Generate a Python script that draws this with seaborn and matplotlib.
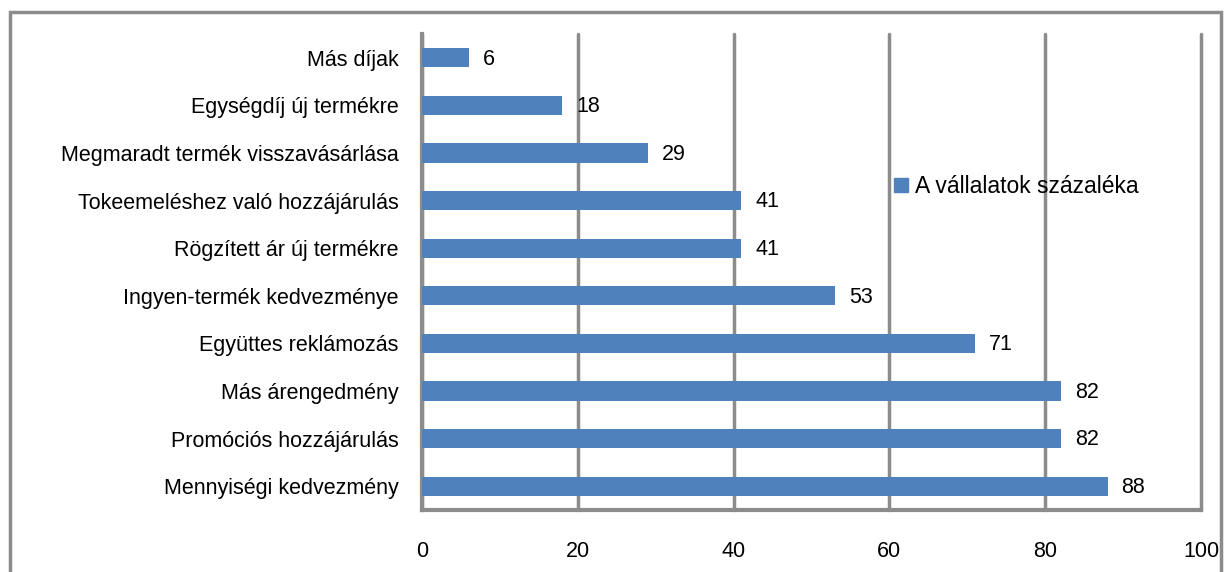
import matplotlib
matplotlib.use("Agg")
import matplotlib.pyplot as plt
import seaborn as sns
import pandas as pd
import numpy as np
from matplotlib.patches import Rectangle
from matplotlib.lines import Line2D

categories = [
    "Más díjak",
    "Egységdíj új termékre",
    "Megmaradt termék visszavásárlása",
    "Tokeemeléshez való hozzájárulás",
    "Rögzített ár új termékre",
    "Ingyen-termék kedvezménye",
    "Együttes reklámozás",
    "Más árengedmény",
    "Promóciós hozzájárulás",
    "Mennyiségi kedvezmény",
]
values = [6, 18, 29, 41, 41, 53, 71, 82, 82, 88]
series_name = "A vállalatok százaléka"
x_ticks = [0, 20, 40, 60, 80, 100]

sns.set_style("white")
plt.rcParams["font.family"] = ["Liberation Sans", "DejaVu Sans"]
plt.rcParams["text.color"] = "black"
plt.rcParams["xtick.labelcolor"] = "black"
plt.rcParams["ytick.labelcolor"] = "black"

BLUE = "#4F81BD"
GRAY = "#8C8C8C"
FS = 15.5

fig = plt.figure(figsize=(12.29, 5.72), dpi=100)
ax = fig.add_axes([422 / 1229, 1 - 510 / 572, (1201 - 422) / 1229, (510 - 34) / 572])

df = pd.DataFrame({"cat": categories, "val": values})
sns.barplot(data=df, y="cat", x="val", orient="h", color=BLUE, width=0.4,
            saturation=1, linewidth=0, ax=ax, zorder=3)

ax.set_xlim(0, 100)
ax.set_ylim(len(categories) - 0.5, -0.5)
ax.set_xlabel("")
ax.set_ylabel("")

# vertical gridlines
ax.set_xticks(x_ticks)
ax.set_xticklabels([str(t) for t in x_ticks], fontsize=FS)
ax.xaxis.grid(True, color=GRAY, linewidth=2.5, zorder=1)
for gl in ax.get_xgridlines():
    gl.set_clip_on(False)
ax.set_axisbelow(True)
ax.tick_params(axis="x", length=8, width=2.5, color=GRAY, pad=14, direction="out")

# category ticks at bar boundaries
ax.set_yticks(range(len(categories)))
ax.set_yticklabels(categories, fontsize=FS)
ax.set_yticks(np.arange(-0.5, len(categories), 1.0), minor=True)
ax.tick_params(axis="y", which="major", length=0, pad=17)
ax.tick_params(axis="y", which="minor", length=8, width=2.5, color=GRAY, direction="out")

for side in ["top", "right"]:
    ax.spines[side].set_visible(False)
for side in ["left", "bottom"]:
    ax.spines[side].set_color(GRAY)
    ax.spines[side].set_linewidth(3)

# value labels
for i, v in enumerate(values):
    ax.annotate(str(v), (v, i), xytext=(10, -1), textcoords="offset points",
                va="center", ha="left", fontsize=FS, color="black")

handle = Line2D([], [], marker="s", linestyle="none", markersize=10,
                markerfacecolor=BLUE, markeredgecolor=BLUE)
ax.legend([handle], [series_name], loc="center left", bbox_to_anchor=(0.589, 0.679),
          frameon=False, fontsize=16.5, handletextpad=0.1, handlelength=1.0,
          borderaxespad=0)

# outer chart border
fig.patches.append(Rectangle((10 / 1229, -0.05), (1221 - 10) / 1229, 1 - 12 / 572 + 0.05,
                             transform=fig.transFigure, fill=False,
                             edgecolor=GRAY, linewidth=2.5, clip_on=False))

fig.savefig("out.png", dpi=100)
